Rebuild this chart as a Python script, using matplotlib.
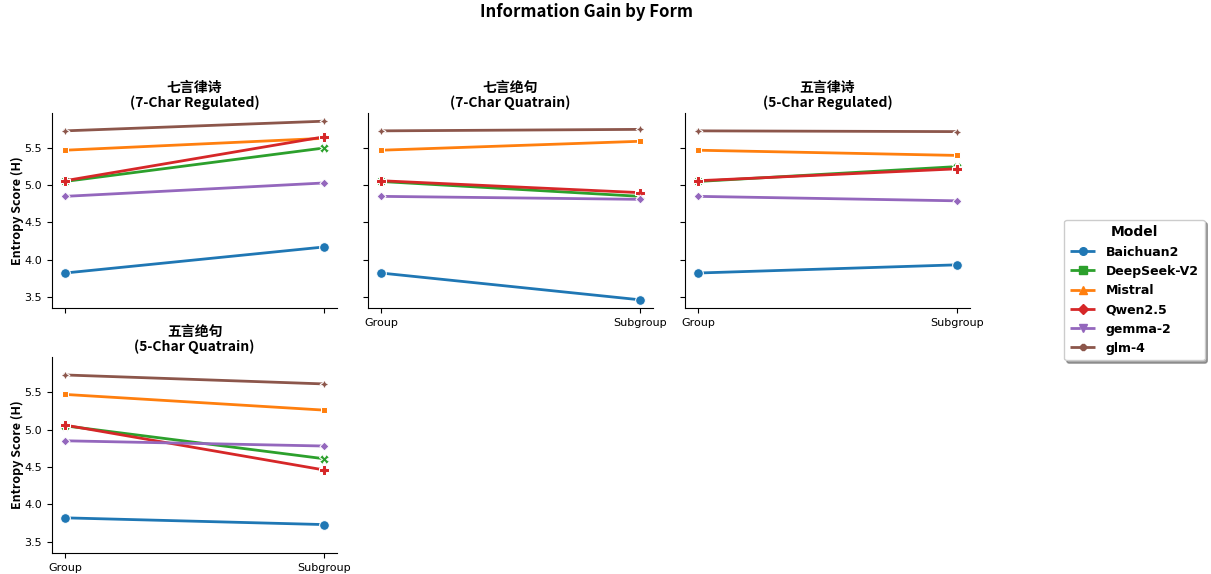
import matplotlib
matplotlib.use("Agg")
import matplotlib.pyplot as plt
from matplotlib.lines import Line2D

plt.rcParams['font.family'] = ['Noto Sans CJK SC', 'DejaVu Sans']

levels = ["Group", "Subgroup"]
models = ["Baichuan2", "DeepSeek-V2", "Mistral", "Qwen2.5", "gemma-2", "glm-4"]
colors = ["#1f77b4", "#2ca02c", "#ff7f0e", "#d62728", "#9467bd", "#8c564b"]
plot_markers = ["o", "X", (4, 0, 45), "P", (4, 0, 0), (4, 1, 0)]
legend_markers = ["o", "s", "^", "D", "v", "8"]

forms = ["七言律诗\n(7-Char Regulated)", "七言绝句\n(7-Char Quatrain)",
         "五言律诗\n(5-Char Regulated)", "五言绝句\n(5-Char Quatrain)"]

# values per form: [Group, Subgroup] for each model in order
form1 = {"Baichuan2": [3.82, 4.17], "DeepSeek-V2": [5.05, 5.50], "Mistral": [5.47, 5.63],
         "Qwen2.5": [5.06, 5.65], "gemma-2": [4.85, 5.03], "glm-4": [5.73, 5.86]}
form2 = {"Baichuan2": [3.82, 3.46], "DeepSeek-V2": [5.05, 4.85], "Mistral": [5.47, 5.59],
         "Qwen2.5": [5.06, 4.90], "gemma-2": [4.85, 4.81], "glm-4": [5.73, 5.75]}
form3 = {"Baichuan2": [3.82, 3.93], "DeepSeek-V2": [5.05, 5.25], "Mistral": [5.47, 5.40],
         "Qwen2.5": [5.06, 5.22], "gemma-2": [4.85, 4.79], "glm-4": [5.73, 5.72]}
form4 = {"Baichuan2": [3.82, 3.73], "DeepSeek-V2": [5.05, 4.61], "Mistral": [5.47, 5.26],
         "Qwen2.5": [5.06, 4.46], "gemma-2": [4.85, 4.78], "glm-4": [5.73, 5.61]}
form_data = [form1, form2, form3, form4]

fig = plt.figure(figsize=(12.11, 5.74), dpi=100)
W, H = 1211, 574
boxes = [(52, 113, 337, 308), (368, 113, 653, 308), (685, 113, 970, 308), (52, 357, 337, 553)]
axes = []
for (l, t, r, b) in boxes:
    ax = fig.add_axes([l / W, 1 - b / H, (r - l) / W, (b - t) / H])
    axes.append(ax)

for i, (ax, title, data) in enumerate(zip(axes, forms, form_data)):
    for m, c, mk in zip(models, colors, plot_markers):
        ms = 7 if mk == "o" else 6.5
        ax.plot([0, 1], data[m], color=c, lw=2, marker=mk, markersize=ms,
                markeredgecolor="white", markeredgewidth=0.75)
    ax.set_xlim(-0.05, 1.05)
    ax.set_ylim(3.35, 5.97)
    ax.set_yticks([3.5, 4.0, 4.5, 5.0, 5.5])
    ax.set_xticks([0, 1])
    ax.set_xticklabels(levels)
    ax.spines['top'].set_visible(False)
    ax.spines['right'].set_visible(False)
    ax.tick_params(labelsize=8)
    for lab in ax.get_xticklabels() + ax.get_yticklabels():
        lab.set_fontfamily('DejaVu Sans')
    ax.set_title(title, fontsize=10, fontweight='bold', linespacing=1.05, pad=4)
    if i in (0, 3):
        ax.set_ylabel("Entropy Score (H)", fontsize=9, fontweight='bold', labelpad=0.5)
    else:
        ax.tick_params(labelleft=False)
    if i == 0:
        ax.tick_params(labelbottom=False)

fig.suptitle("Information Gain by Form", fontsize=12, fontweight='bold',
             x=586 / W, y=0.995)

handles = [Line2D([0], [0], color=c, lw=2, ls='--', marker=mk,
                  markersize=5.5 if mk != "8" else 4)
           for c, mk in zip(colors, legend_markers)]
leg = fig.legend(handles, models, title="Model", loc='center left',
                 bbox_to_anchor=(1064 / W, 1 - 290 / H), frameon=True, shadow=True,
                 prop={'family': 'DejaVu Sans', 'weight': 'bold', 'size': 9},
                 handlelength=2.2, handletextpad=0.7, borderpad=0.45,
                 labelspacing=0.5, borderaxespad=0)
leg.get_title().set_fontweight('bold')
leg.get_title().set_fontfamily('DejaVu Sans')
leg.get_title().set_fontsize(10)

fig.savefig("out.png", dpi=100)
